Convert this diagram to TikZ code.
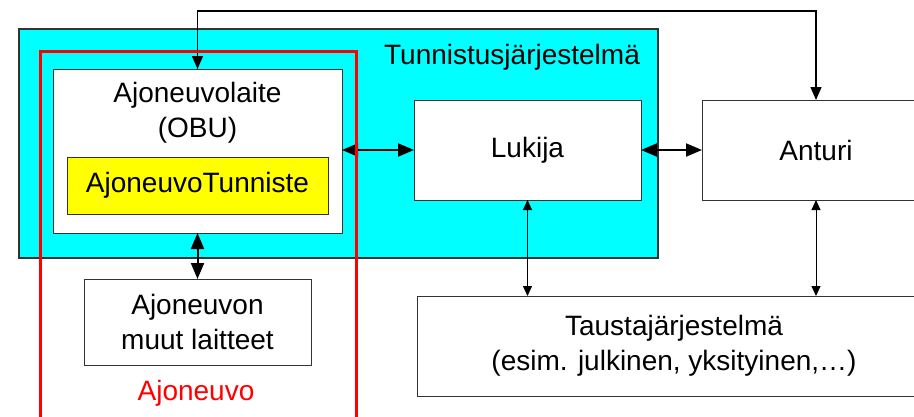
\documentclass[tikz,border=0pt]{standalone}
\usepackage{fontspec}
\setmainfont{Liberation Sans}
\usetikzlibrary{arrows.meta}
\definecolor{aqua}{RGB}{0,255,255}
\definecolor{yel}{RGB}{255,255,0}
\definecolor{rd}{RGB}{255,0,0}
\begin{document}
\begin{tikzpicture}[x=1pt,y=-1pt,
  every node/.style={font=\fontsize{28}{35}\selectfont, inner sep=0pt, outer sep=0pt},
  box/.style={draw=black!80, line width=1pt, fill=white},
  bigarr/.style={line width=2pt, {Triangle[length=16pt,width=13pt]}-{Triangle[length=16pt,width=13pt]}},
  toparr/.style={line width=1.5pt, {Triangle[length=13pt,width=11pt]}-{Triangle[length=13pt,width=11pt]}},
  thinarr/.style={line width=1pt, {Triangle[length=10pt,width=9pt]}-{Triangle[length=10pt,width=9pt]}}]
\useasboundingbox (0,0) rectangle (914,416);
% cyan system box
\node[draw=black!80, line width=1.3pt, fill=aqua, minimum width=639pt, minimum height=229pt] (sys) at (338.5,143.5) {};
\node (systxt) at (512,57) {Tunnistusjärjestelmä};
% OBU
\node[box, minimum width=289pt, minimum height=164pt] (obu) at (197.5,151) {};
\node[align=center] (obutxt) at (197.5,113) {Ajoneuvolaite\\(OBU)};
\node[draw=black!80, line width=1pt, fill=yel, minimum width=261pt, minimum height=57pt] (tun) at (197.5,185.5) {AjoneuvoTunniste};
% Lukija, Anturi
\node[box, minimum width=227pt, minimum height=100pt] (lukija) at (527.5,150) {Lukija};
\node[box, minimum width=228pt, minimum height=100pt] (anturi) at (816,150) {Anturi};
% other vehicle devices
\node[box, minimum width=227pt, minimum height=86pt, align=center] (muut) at (197.5,322) {Ajoneuvon\\muut laitteet};
% backend
\node[box, minimum width=514pt, minimum height=100pt] (tausta) at (674,346) {};
\node[align=center] (taustatxt) at (674,346) {Taustajärjestelmä\\(esim. julkinen, yksityinen,\dots)};
% connectors
\coordinate (top) at (500,11);
\draw[toparr] (obu.north) |- (top) -| (anturi.north);
\draw[bigarr] (obu.east |- lukija.west) -- (lukija.west);
\draw[bigarr] (lukija.east) -- (anturi.west);
\draw[bigarr] (obu.south) -- (muut.north);
\draw[thinarr] (lukija.south) -- (lukija.south |- tausta.north);
\draw[thinarr] (anturi.south) -- (anturi.south |- tausta.north);
% vehicle red frame
\node[draw=rd, line width=3pt, minimum width=316pt, minimum height=380pt] (veh) at (198,241) {};
\node[text=rd] (vehtxt) at (196,393) {Ajoneuvo};
\end{tikzpicture}
\end{document}
